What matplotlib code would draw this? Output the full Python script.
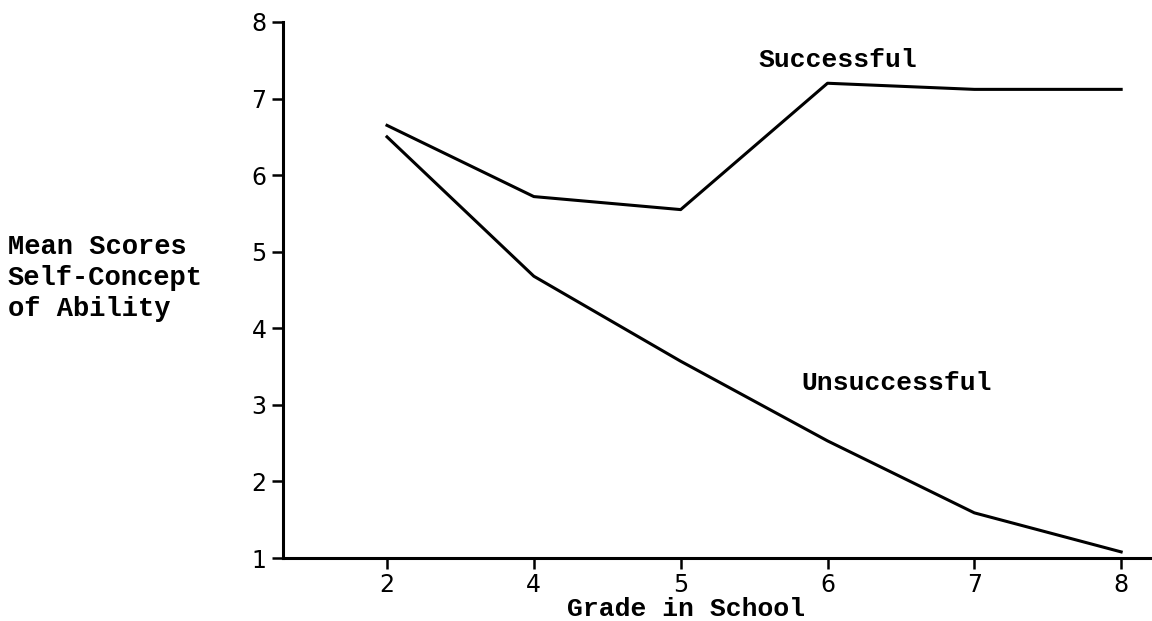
import matplotlib.pyplot as plt

# Dados
grades = ["2", "4", "5", "6", "7", "8"]
successful = [6.65, 5.72, 5.55, 7.2, 7.12, 7.12]
unsuccessful = [6.5, 4.68, 3.57, 2.53, 1.59, 1.08]
y_ticks = [1, 2, 3, 4, 5, 6, 7, 8]

typewriter = dict(family="Liberation Mono", fontweight="bold", fontsize=19)
left_label = dict(family="Liberation Mono", fontweight="bold", fontsize=19.5)

fig = plt.figure(figsize=(11.52, 6.21), dpi=100)
ax = fig.add_axes([0.2457, 0.1014, 0.7543, 0.8632])

x = list(range(len(grades)))
ax.plot(x, successful, color="black", linewidth=2.2)
ax.plot(x, unsuccessful, color="black", linewidth=2.2)

ax.set_xlim(-0.708, 5.21)
ax.set_ylim(1, 8)
ax.set_xticks(x)
ax.set_xticklabels(grades)
ax.set_yticks(y_ticks)

for side in ["top", "right"]:
    ax.spines[side].set_visible(False)
for side in ["left", "bottom"]:
    ax.spines[side].set_linewidth(2.2)
ax.tick_params(axis="both", direction="out", length=8, width=1.8,
               labelsize=17, pad=4)
ax.tick_params(axis="x", pad=3)

# Rótulos das séries
ax.text(3.07, 7.51, "Successful", ha="center", va="center", **typewriter)
ax.text(3.47, 3.28, "Unsuccessful", ha="center", va="center", **typewriter)

# Título do eixo y (três linhas à esquerda)
fig.text(8 / 1152, 1 - 247 / 621, "Mean Scores", ha="left", va="center", **left_label)
fig.text(8 / 1152, 1 - 278 / 621, "Self-Concept", ha="left", va="center", **left_label)
fig.text(8 / 1152, 1 - 309 / 621, "of Ability", ha="left", va="center", **left_label)

fig.text(686 / 1152, 1 - 609 / 621, "Grade in School", ha="center", va="center", **typewriter)

plt.savefig("out.png", dpi=100)
